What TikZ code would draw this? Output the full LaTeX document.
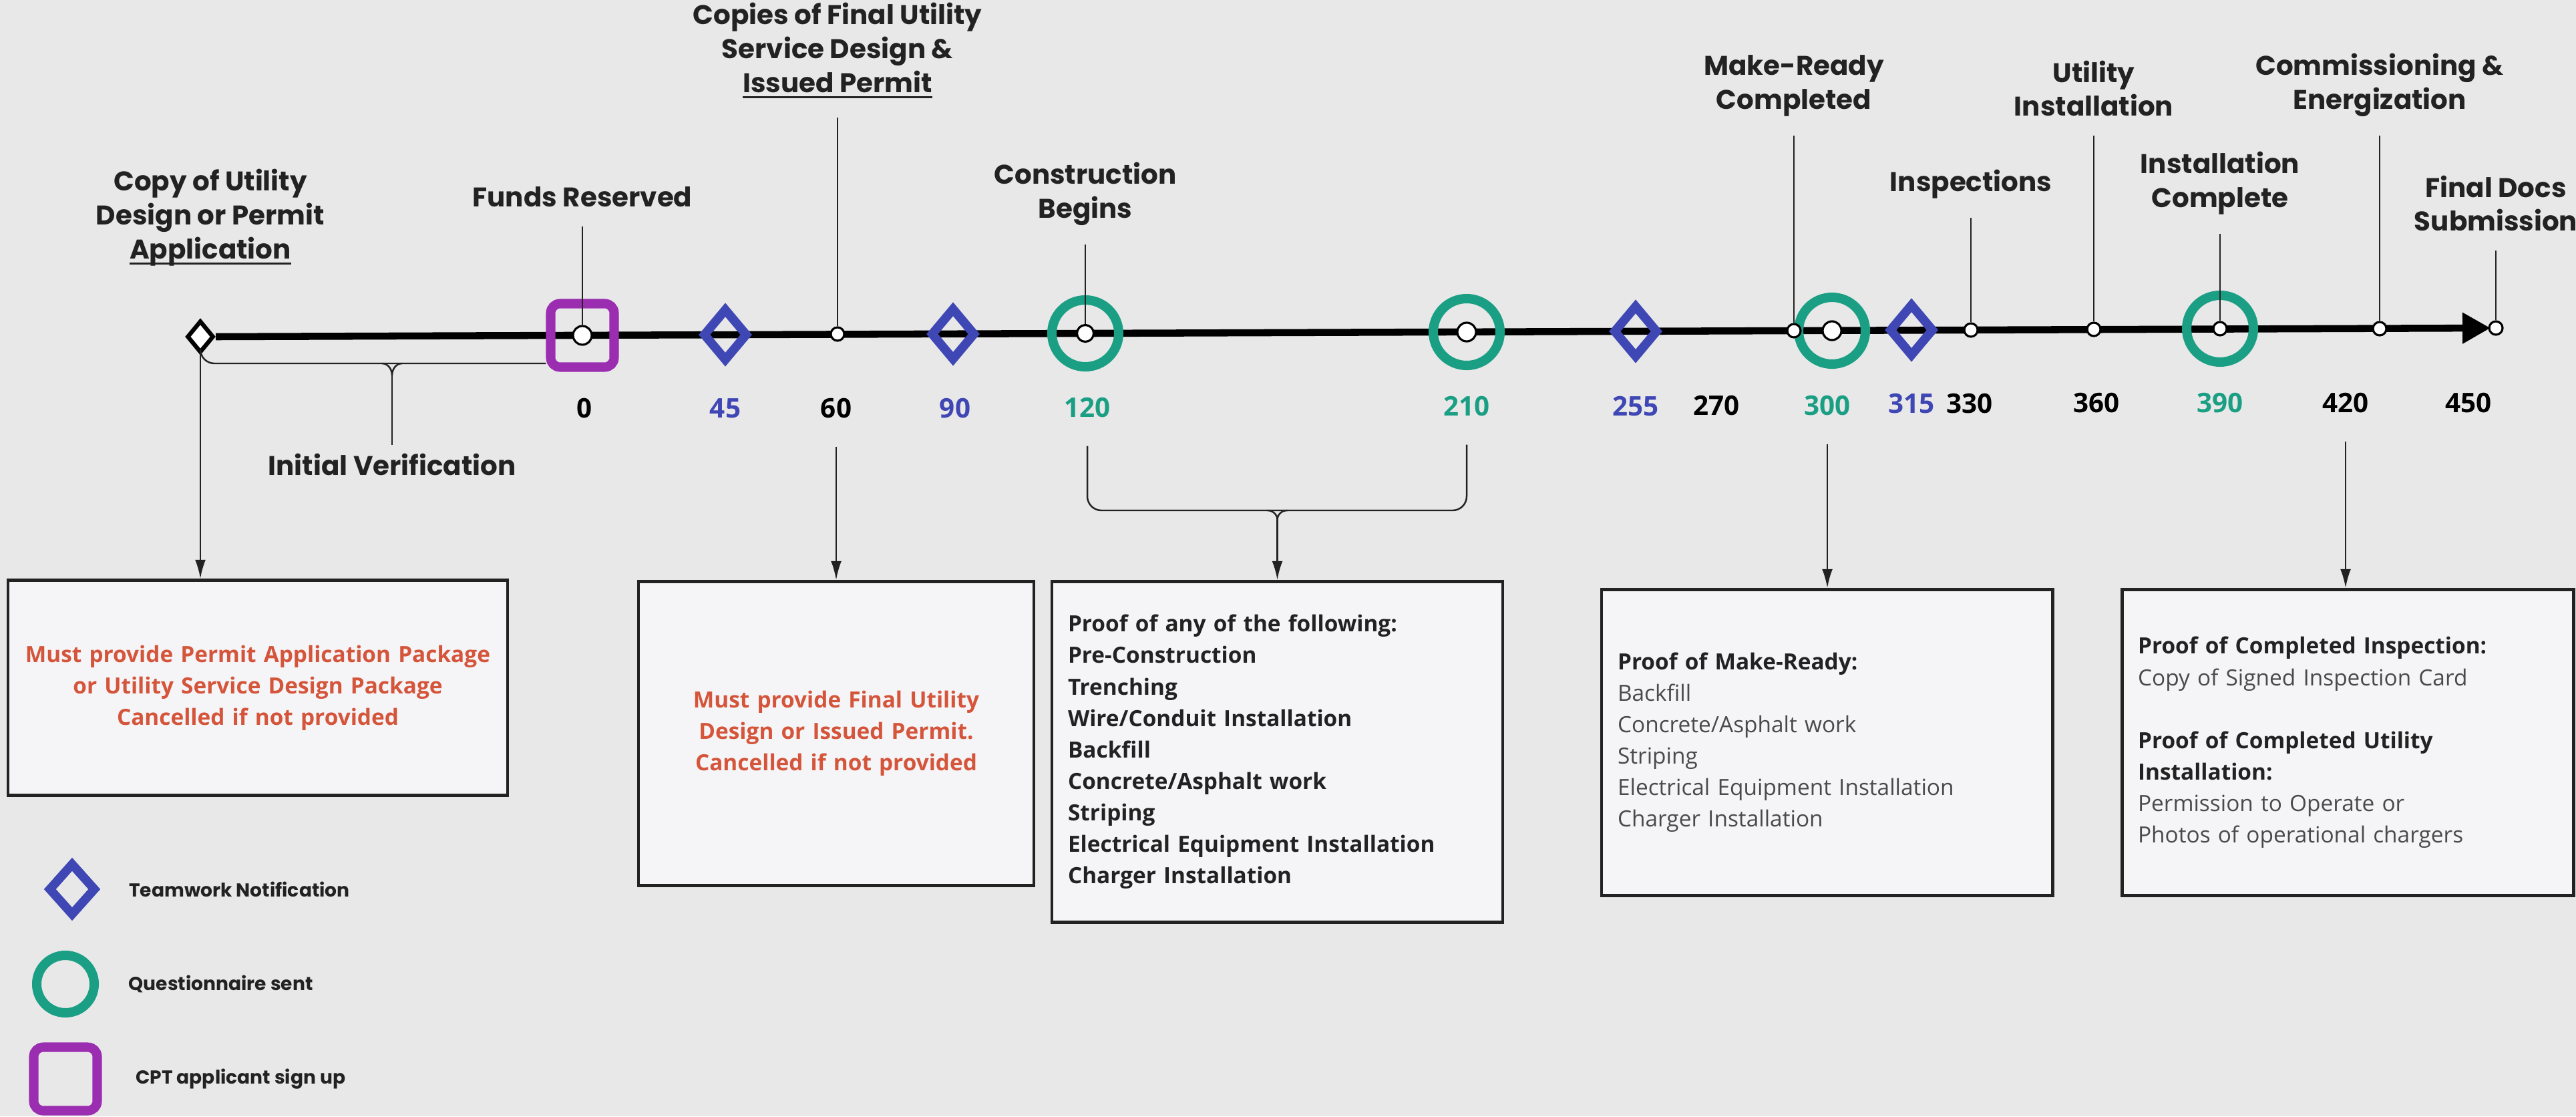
\documentclass[tikz,border=0pt]{standalone}
\usepackage{fontspec}
\newfontfamily\lblfont{Poppins}
\newfontfamily\boxfont{Open Sans}
\usetikzlibrary{shapes.geometric,arrows.meta,positioning}

\definecolor{bgcol}{HTML}{E8E8E8}
\definecolor{boxcol}{HTML}{F5F5F8}
\definecolor{tealcol}{HTML}{1A9F84}
\definecolor{navycol}{HTML}{3F47B5}
\definecolor{plumcol}{HTML}{9A2DB0}
\definecolor{warncol}{HTML}{D5553B}
\definecolor{inkcol}{HTML}{222222}
\definecolor{greycol}{HTML}{4A4A4A}

\newlength{\undlwd}
\newcommand{\undl}[1]{\settowidth{\undlwd}{#1}\rlap{\rule[-2.4pt]{\undlwd}{0.9pt}}#1}

\begin{document}
\begin{tikzpicture}[
  lbl/.style={font=\lblfont\bfseries\fontsize{11.5}{14.5}\selectfont,align=center,
    inner xsep=0pt,inner ysep=0.28cm,anchor=south,text=inkcol},
  num/.style={font=\boxfont\bfseries\fontsize{11.5}{14}\selectfont,inner xsep=0pt,inner ysep=0.42cm},
  knob/.style={circle,draw=black,fill=white,line width=0.9pt,minimum size=0.2cm,inner sep=0},
  bigknob/.style={knob,minimum size=0.28cm},
  notify/.style={diamond,draw=navycol,line width=3.8pt,minimum width=0.68cm,minimum height=0.8cm,inner sep=0},
  survey/.style={circle,draw=tealcol,line width=4pt,minimum size=1cm,inner sep=0},
  signup/.style={rectangle,rounded corners=4pt,draw=plumcol,line width=4pt,minimum size=0.95cm,inner sep=0},
  stem/.style={draw=inkcol,line width=0.7pt},
  feed/.style={stem,-{Latex[length=8pt,width=4.5pt]}},
  notice/.style={draw=inkcol,fill=boxcol,line width=1.4pt,anchor=north,inner xsep=0.24cm,inner ysep=0pt,
    font=\boxfont\fontsize{9.5}{13.4}\selectfont,text=inkcol},
  keytext/.style={font=\lblfont\bfseries\fontsize{8}{10}\selectfont,text=inkcol,inner sep=0pt}
]
\fill[bgcol] (0,0) rectangle (38.57,-16.71);
\useasboundingbox (0,0) rectangle (38.57,-16.71);

% timeline
\node[diamond,draw=black,fill=white,line width=1.8pt,minimum width=0.4cm,minimum height=0.48cm,inner sep=0] (start) at (3.00,-5.04) {};
\coordinate (axend) at (37.29,-4.91);
\draw[line width=3pt,-{Triangle[length=0.42cm,width=0.44cm]}] (start.east) -- (axend);

% markers
\node[signup] (sq0) at (8.72,-5.02) {};
\node[notify] (dm45) at (10.86,-5.01) {};
\node[notify] (dm90) at (14.27,-5.00) {};
\node[survey] (c120) at (16.25,-4.99) {};
\node[survey] (c210) at (21.96,-4.97) {};
\node[notify] (dm255) at (24.49,-4.96) {};
\node[survey] (c300) at (27.43,-4.95) {};
\node[notify] (dm315) at (28.62,-4.94) {};
\node[survey] (c390) at (33.24,-4.92) {};

\node[bigknob] (d0) at (sq0) {};
\node[knob] (d60) at (12.54,-5.00) {};
\node[knob,minimum size=0.25cm] (d120) at (c120) {};
\node[bigknob] (d210) at (c210) {};
\node[knob] (dMR) at (26.86,-4.95) {};
\node[bigknob] (d300) at (c300) {};
\node[knob] (d330) at (29.51,-4.94) {};
\node[knob] (d360) at (31.35,-4.93) {};
\node[knob] (d390) at (c390) {};
\node[knob] (d420) at (35.63,-4.92) {};
\node[knob] (d450) at (37.37,-4.91) {};

% milestones above the line
\node[lbl,anchor=center] (lApp) at (3.15,-3.26) {Copy of Utility\\Design or Permit\\\undl{Application}};
\node[lbl] (lFunds) at (8.72,-3.39) {Funds Reserved};
\node[lbl] (lCopies) at (12.54,-1.76) {Copies of Final Utility\\Service Design \&\\\undl{Issued Permit}};
\node[lbl] (lBuild) at (16.25,-3.66) {Construction\\Begins};
\node[lbl] (lReady) at (26.86,-2.03) {Make-Ready\\Completed};
\node[lbl] (lInsp) at (29.51,-3.26) {Inspections};
\node[lbl] (lUtil) at (31.35,-2.03) {Utility\\Installation};
\node[lbl] (lDone) at (33.24,-3.50) {Installation\\Complete};
\node[lbl] (lEnergy) at (35.63,-2.03) {Commissioning \&\\Energization};
\node[lbl] (lFinal) at (37.37,-3.75) {Final Docs\\Submission};

\draw[stem] (lFunds.south) -- (d0.north);
\draw[stem] (lCopies.south) -- (d60.north);
\draw[stem] (lBuild.south) -- (d120.north);
\draw[stem] (lReady.south) -- (dMR.north);
\draw[stem] (lInsp.south) -- (d330.north);
\draw[stem] (lUtil.south) -- (d360.north);
\draw[stem] (lDone.south) -- (d390.north);
\draw[stem] (lEnergy.south) -- (d420.north);
\draw[stem] (lFinal.south) -- (d450.north);

% days
\node[num] (n0) at (8.75,-6.11) {0};
\node[num,text=navycol] (n45) at (10.86,-6.11) {45};
\node[num] (n60) at (12.52,-6.11) {60};
\node[num,text=navycol] (n90) at (14.30,-6.11) {90};
\node[num,text=tealcol] (n120) at (16.28,-6.10) {120};
\node[num,text=tealcol] (n210) at (21.96,-6.08) {210};
\node[num,text=navycol] (n255) at (24.49,-6.08) {255};
\node[num] (n270) at (25.70,-6.07) {270};
\node[num,text=tealcol] (n300) at (27.36,-6.07) {300};
\node[num,text=navycol] (n315) at (28.62,-6.04) {315};
\node[num] (n330) at (29.49,-6.04) {330};
\node[num] (n360) at (31.39,-6.03) {360};
\node[num,text=tealcol] (n390) at (33.24,-6.03) {390};
\node[num] (n420) at (35.12,-6.03) {420};
\node[num] (n450) at (36.96,-6.03) {450};

% initial verification
\coordinate (iv) at (5.87,-5.44);
\coordinate (ivtip) at (5.87,-5.62);
\draw[stem,rounded corners=6pt] (start.south) |- (iv) -- (iv -| sq0.west);
\draw[stem] ([xshift=-0.15cm]iv) to[out=0,in=90] (ivtip) to[out=90,in=180] ([xshift=0.15cm]iv);
\node[lbl,anchor=north,inner ysep=0.12cm] (lVerify) at (5.87,-6.66) {Initial Verification};
\draw[stem] (ivtip) -- (lVerify.north);

% requirement boxes
\node[notice,text width=7.00cm,minimum height=3.22cm,align=center,text=warncol] (box1) at (3.86,-8.66)
  {\bfseries Must provide Permit Application Package\\or Utility Service Design Package\\Cancelled if not provided};
\node[notice,text width=5.44cm,minimum height=4.55cm,align=center,text=warncol] (box2) at (12.52,-8.68)
  {\bfseries Must provide Final Utility\\Design or Issued Permit.\\Cancelled if not provided};
\node[notice,text width=6.27cm,minimum height=5.10cm,align=left] (box3) at (19.125,-8.68)
  {\bfseries Proof of any of the following:\\Pre-Construction\\Trenching\\Wire/Conduit Installation\\Backfill\\Concrete/Asphalt work\\Striping\\Electrical Equipment Installation\\Charger Installation};
\node[notice,text width=6.27cm,minimum height=4.58cm,align=left] (box4) at (27.355,-8.80)
  {{\bfseries Proof of Make-Ready:}\\\color{greycol}Backfill\\Concrete/Asphalt work\\Striping\\Electrical Equipment Installation\\Charger Installation};
\node[notice,text width=6.28cm,minimum height=4.58cm,align=left] (box5) at (35.15,-8.80)
  {{\bfseries Proof of Completed Inspection:}\\{\color{greycol}Copy of Signed Inspection Card}\\[13.4pt]{\bfseries Proof of Completed Utility\\Installation:}\\\color{greycol}Permission to Operate or\\Photos of operational chargers};

\draw[feed] (start.south) -- (start.south |- box1.north);
\draw[feed] (n60.south) -- (box2.north);
\coordinate (b3) at (19.125,-7.64);
\coordinate (b3tip) at (19.125,-7.78);
\draw[stem,rounded corners=6pt] (n120.south) |- (b3) -| (n210.south);
\draw[stem] ([xshift=-0.15cm]b3) to[out=0,in=90] (b3tip) to[out=90,in=180] ([xshift=0.15cm]b3);
\draw[feed] (b3tip) -- (box3.north);
\draw[feed] (n300.south) -- (n300.south |- box4.north);
\draw[feed] (n420.south) -- (n420.south |- box5.north);

% legend
\node[notify,minimum width=0.72cm] (kNotify) at (1.08,-13.31) {};
\node[survey,minimum size=0.86cm] (kSurvey) at (0.98,-14.73) {};
\node[signup] (kSignup) at (0.98,-16.15) {};
\node[keytext,right=0.42cm of kNotify] (tNotify) {Teamwork Notification};
\node[keytext,right=0.44cm of kSurvey] (tSurvey) {Questionnaire sent};
\node[keytext,right=0.50cm of kSignup] (tSignup) {CPT applicant sign up};
\end{tikzpicture}
\end{document}
